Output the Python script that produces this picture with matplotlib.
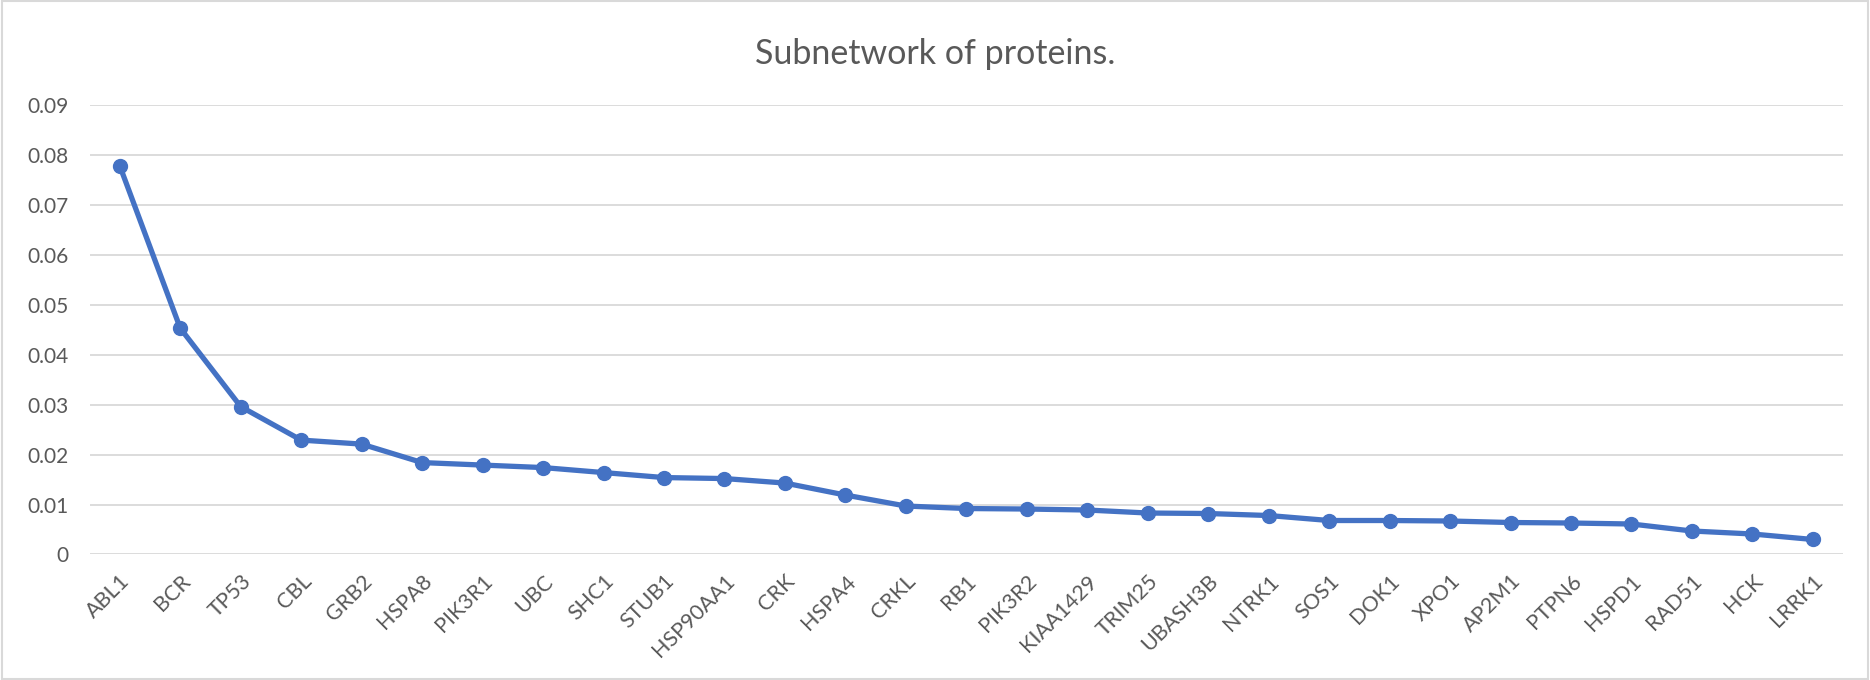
import matplotlib.pyplot as plt
from matplotlib.patches import Rectangle

proteins = ["ABL1", "BCR", "TP53", "CBL", "GRB2", "HSPA8", "PIK3R1", "UBC", "SHC1",
            "STUB1", "HSP90AA1", "CRK", "HSPA4", "CRKL", "RB1", "PIK3R2", "KIAA1429",
            "TRIM25", "UBASH3B", "NTRK1", "SOS1", "DOK1", "XPO1", "AP2M1", "PTPN6",
            "HSPD1", "RAD51", "HCK", "LRRK1"]
scores = [0.0778, 0.0453, 0.0296, 0.0229, 0.0221, 0.0184, 0.0179, 0.0174, 0.0164,
          0.0154, 0.0152, 0.0143, 0.0119, 0.0097, 0.0092, 0.0091, 0.0089,
          0.0083, 0.0082, 0.0078, 0.0068, 0.0068, 0.0067, 0.0064, 0.0063,
          0.0061, 0.0047, 0.0041, 0.0030]
yticks = [0, 0.01, 0.02, 0.03, 0.04, 0.05, 0.06, 0.07, 0.08, 0.09]
ytick_labels = ["0", "0.01", "0.02", "0.03", "0.04", "0.05", "0.06", "0.07", "0.08", "0.09"]

plt.rcParams['font.family'] = ['Lato', 'DejaVu Sans']
text_color = "#595959"

fig = plt.figure(figsize=(18.7, 6.8), dpi=100)
ax = fig.add_axes([0.0479, 0.1846, 0.9377, 0.661])

x = list(range(len(proteins)))
ax.plot(x, scores, color="#4472C4", linewidth=3.8, marker="o", markersize=10, zorder=3)

ax.set_xlim(-0.5, len(proteins) - 0.5)
ax.set_ylim(0, 0.09)
ax.set_yticks(yticks)
ax.set_yticklabels(ytick_labels)
ax.set_xticks(x)
ax.set_xticklabels(proteins, rotation=45, ha="right", rotation_mode="anchor")
ax.tick_params(axis="both", length=0, labelsize=15, colors=text_color)
ax.tick_params(axis="x", labelsize=15.5, pad=12)
ax.tick_params(axis="y", pad=15)
ax.grid(axis="y", color="#d9d9d9", linewidth=1.3)
ax.set_axisbelow(True)
for s in ax.spines.values():
    s.set_visible(False)

fig.text(0.5, 0.92, "Subnetwork of proteins.", ha="center", va="center",
         fontsize=24.5, color=text_color)

# chart border
fig.patches.append(Rectangle((0.001, 0.001), 0.998, 0.998, transform=fig.transFigure,
                             fill=False, edgecolor="#d9d9d9", linewidth=1.5))

fig.savefig("out.png", dpi=100)
